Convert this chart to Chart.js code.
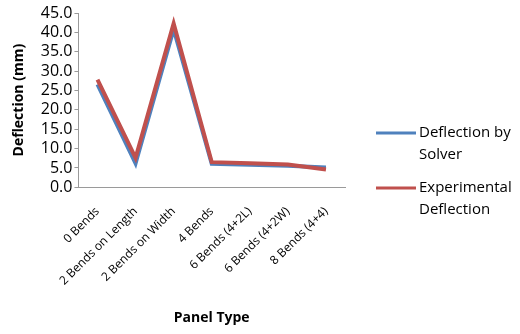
<!DOCTYPE html>
<html>
<head>
<meta charset="utf-8">
<script src="https://cdn.jsdelivr.net/npm/chart.js@4"></script>
<style>
  html, body { margin: 0; padding: 0; background: #fff; }
  #wrap { width: 520px; height: 334px; }
</style>
</head>
<body>
<div id="wrap"><canvas id="grafico"></canvas></div>
<script>
const categorias = ['0 Bends', '2 Bends on Length', '2 Bends on Width', '4 Bends', '6 Bends (4+2L)', '6 Bends (4+2W)', '8 Bends (4+4)'];
const deflexaoSolver = [26.6, 6.2, 40.8, 6.1, 5.8, 5.6, 5.1];
const deflexaoExperimental = [27.8, 7.6, 42.3, 6.5, 6.2, 5.9, 4.6];
const legendaSolver = ['Deflection by', 'Solver'];
const legendaExperimental = ['Experimental', 'Deflection'];

const fonte = "'Open Sans', sans-serif";

// legenda desenhada à mão (texto em duas linhas)
const legendaPlugin = {
  id: 'legendaLateral',
  afterDraw(chart) {
    const ctx = chart.ctx;
    const itens = chart.data.datasets.slice().reverse();
    let y = 133;
    ctx.save();
    ctx.font = '15px ' + fonte;
    ctx.textBaseline = 'middle';
    itens.forEach(ds => {
      ctx.strokeStyle = ds.borderColor;
      ctx.lineWidth = 3;
      ctx.beginPath();
      ctx.moveTo(376, y);
      ctx.lineTo(416, y);
      ctx.stroke();
      ctx.fillStyle = '#000';
      ds.linhas.forEach((t, i) => ctx.fillText(t, 419, y + i * 22));
      y += 55;
    });
    ctx.restore();
  }
};

new Chart(document.getElementById('grafico'), {
  type: 'line',
  data: {
    labels: categorias,
    datasets: [
      {
        label: 'Experimental Deflection',
        linhas: legendaExperimental,
        data: deflexaoExperimental,
        borderColor: '#C0504D',
        borderWidth: 4,
        pointRadius: 0,
        tension: 0,
        order: 1
      },
      {
        label: 'Deflection by Solver',
        linhas: legendaSolver,
        data: deflexaoSolver,
        borderColor: '#4F81BD',
        borderWidth: 4,
        pointRadius: 0,
        tension: 0,
        order: 2
      }
    ]
  },
  options: {
    responsive: true,
    maintainAspectRatio: false,
    animation: false,
    layout: { padding: { top: 13, right: 175, left: 11, bottom: 4 } },
    plugins: {
      legend: { display: false },
      tooltip: { enabled: false }
    },
    scales: {
      x: {
        offset: true,
        grid: { display: false, drawTicks: false },
        border: { color: '#9a9a9a', width: 1 },
        title: {
          display: true,
          text: 'Panel Type',
          color: '#000',
          font: { family: fonte, size: 14, weight: 'bold' },
          padding: { top: 4 }
        },
        ticks: {
          autoSkip: false,
          color: '#000',
          minRotation: 45,
          maxRotation: 45,
          padding: 17,
          font: { family: fonte, size: 12 }
        }
      },
      y: {
        min: 0,
        max: 45,
        grid: { drawOnChartArea: false, tickLength: 4, color: '#9a9a9a' },
        border: { color: '#9a9a9a', width: 1 },
        title: {
          display: true,
          text: 'Deflection (mm)',
          color: '#000',
          font: { family: fonte, size: 14, weight: 'bold' },
          padding: { top: 0, bottom: 11 }
        },
        ticks: {
          autoSkip: false,
          stepSize: 5,
          color: '#000',
          padding: 2,
          font: { family: fonte, size: 16 },
          callback: v => v.toFixed(1)
        }
      }
    }
  },
  plugins: [legendaPlugin]
});
</script>
</body>
</html>
